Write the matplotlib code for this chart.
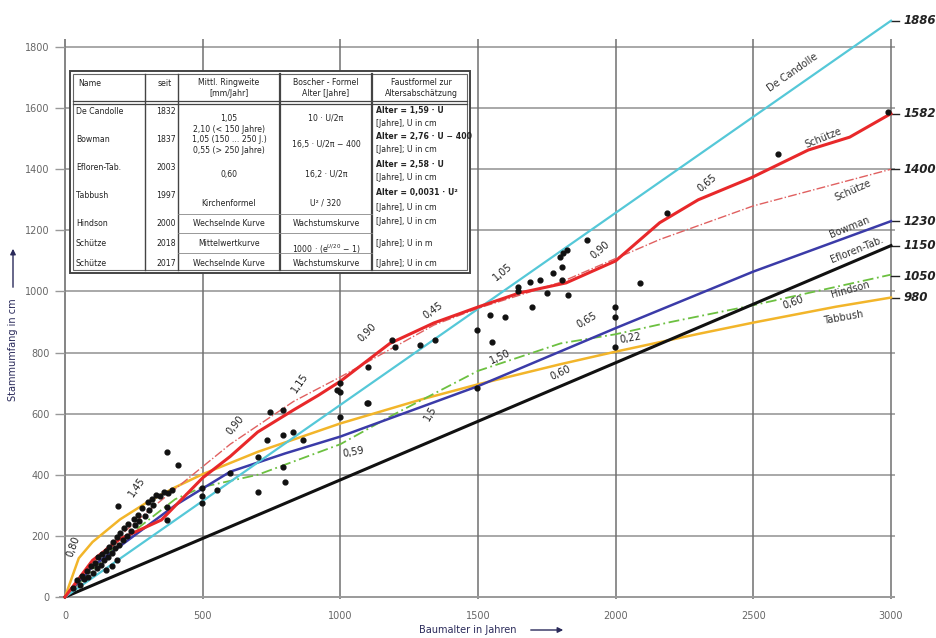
import matplotlib.pyplot as plt
from matplotlib.patches import Rectangle

# --- data ---
decandolle_t = [0, 3000]
decandolle_u = [0, 1886]

schuetze17_t = [0, 100, 200, 350, 500, 600, 700, 830, 920, 1000, 1180, 1340, 1500, 1650, 1820, 2000, 2160, 2300, 2490, 2700, 2850, 3000]
schuetze17_u = [0, 120, 190, 252, 390, 460, 540, 612, 660, 706, 830, 897, 949, 995, 1028, 1100, 1225, 1300, 1371, 1463, 1505, 1582]

schuetze18_t = [0, 150, 300, 600, 830, 1000, 1340, 1500, 1800, 2160, 2500, 3000]
schuetze18_u = [0, 160, 280, 500, 640, 720, 890, 945, 1030, 1170, 1280, 1400]

bowman_t = [0, 100, 250, 400, 500, 600, 800, 1000, 1500, 2000, 2500, 3000]
bowman_u = [0, 100, 200, 300, 355, 410, 470, 525, 690, 880, 1065, 1230]

efloren_t = [0, 3000]
efloren_u = [0, 1150]

hindson_t = [0, 200, 400, 500, 700, 1000, 1200, 1500, 1800, 2000, 2200, 2500, 3000]
hindson_u = [0, 180, 320, 360, 400, 500, 600, 740, 830, 860, 900, 955, 1055]

tabbush_t = [0, 50, 100, 200, 300, 400, 500, 700, 1000, 1300, 1500, 1800, 2000, 2300, 2500, 2800, 3000]
tabbush_u = [0, 127, 180, 254, 311, 359, 402, 475, 568, 648, 696, 762, 803, 861, 898, 950, 980]

# measured trees (age, circumference)
trees_t = [30, 45, 55, 60, 70, 80, 85, 95, 100, 110, 115, 120, 130, 135, 140, 150, 155, 160, 170, 175,
           180, 190, 195, 200, 210, 215, 225, 230, 240, 250, 255, 265, 270, 280, 290, 300, 305, 315, 320, 330,
           345, 360, 375, 390, 150, 170, 190, 192, 370, 410, 370, 370, 498, 498, 498, 552, 600, 701, 799, 792,
           745, 792, 733, 792, 829, 865, 701, 999, 999, 999, 1097, 988, 1101, 1101, 1188, 1199, 1290, 1344, 1496, 1496,
           1544, 1551, 1598, 1645, 1645, 1689, 1696, 1725, 1751, 1772, 1798, 1810, 1823, 1805, 1805, 1827, 1896, 1998, 1998, 1998,
           2088, 2186, 2590, 2990]
trees_u = [30, 55, 40, 70, 60, 85, 65, 100, 80, 110, 95, 130, 105, 140, 120, 150, 130, 165, 145, 180,
           160, 195, 170, 210, 185, 225, 200, 240, 215, 255, 235, 270, 250, 290, 265, 310, 285, 320, 300, 335,
           330, 345, 340, 350, 90, 100, 120, 298, 475, 432, 252, 295, 307, 330, 357, 350, 405, 343, 376, 425,
           605, 612, 514, 530, 540, 514, 458, 700, 671, 589, 635, 677, 753, 635, 841, 818, 825, 841, 874, 684,
           923, 834, 916, 1015, 1000, 1031, 949, 1037, 995, 1060, 1113, 1125, 1136, 1080, 1037, 988, 1168, 949, 916, 818,
           1028, 1257, 1450, 1587]

end_labels = ["1886", "1582", "1400", "1230", "1150", "1050", "980"]
end_values = [1886, 1582, 1400, 1230, 1150, 1050, 980]

curve_names = ["De Candolle", "Schütze", "Schütze", "Bowman", "Efloren-Tab.", "Hindson", "Tabbush"]
name_pos = [(2644, 1715, 35), (2753, 1502, 22), (2862, 1332, 24), (2851, 1211, 22),
            (2877, 1136, 22), (2851, 1005, 16), (2826, 913, 10)]

ring_labels = ["0,80", "1,45", "0,90", "1,15", "0,90", "0,45", "1,05", "0,90", "0,65", "0,65",
               "0,22", "0,60", "1,50", "1,5", "0,59", "0,60"]
ring_pos = [(29, 164, 70), (262, 360, 55), (617, 563, 50), (854, 700, 55), (1097, 864, 45),
            (1337, 939, 35), (1591, 1064, 40), (1943, 1136, 40), (2332, 1355, 40), (1896, 907, 30),
            (2052, 848, 10), (1798, 733, 25), (1580, 785, 25), (1326, 602, 60), (1046, 475, 10),
            (2644, 962, 20)]

x_ticks = [0, 500, 1000, 1500, 2000, 2500, 3000]
y_ticks = [0, 200, 400, 600, 800, 1000, 1200, 1400, 1600, 1800]

table_header = ["Name", "seit", "Mittl. Ringweite\n[mm/Jahr]", "Boscher - Formel\nAlter [Jahre]",
                "Faustformel zur\nAltersabschätzung"]
table_names = ["De Candolle", "Bowman", "Efloren-Tab.", "Tabbush", "Hindson", "Schütze", "Schütze"]
table_years = ["1832", "1837", "2003", "1997", "2000", "2018", "2017"]
table_rings = ["1,05", "2,10 (< 150 Jahre)\n1,05 (150 ... 250 J.)\n0,55 (> 250 Jahre)", "0,60",
               "Kirchenformel", "Wechselnde Kurve", "Mittelwertkurve", "Wechselnde Kurve"]
table_formula = ["10 · U/2π", "16,5 · U/2π − 400", "16,2 · U/2π", "U² / 320",
                 "Wachstumskurve", r"1000 · (e$^{U/20}$ − 1)", "Wachstumskurve"]
table_rule = ["Alter = 1,59 · U", "[Jahre], U in cm", "Alter = 2,76 · U − 400", "[Jahre]; U in cm",
              "Alter = 2,58 · U", "[Jahre], U in cm", "Alter = 0,0031 · U²", "[Jahre], U in cm",
              "[Jahre], U in cm", "[Jahre]; U in m", "[Jahre]; U in cm"]

# --- figure ---
fig = plt.figure(figsize=(9.36, 6.38), dpi=100)
ax = fig.add_axes([65 / 936, 41 / 638, 826 / 936, 550 / 638])
ax.set_xlim(0, 3000)
ax.set_ylim(0, 1800)
for s in ax.spines.values():
    s.set_visible(False)

ax.hlines(y_ticks[1:], 0, 3015, color="#9a9a9a", lw=1.2, clip_on=False, zorder=1)
ax.vlines(x_ticks[1:], -8, 1825, color="#707070", lw=1.1, clip_on=False, zorder=1)
ax.vlines(0, -8, 1825, color="#707070", lw=1.2, clip_on=False, zorder=1)
ax.hlines(0, -20, 3015, color="#9a9a9a", lw=1.4, clip_on=False, zorder=1)

ax.set_xticks(x_ticks)
ax.set_yticks(y_ticks)
ax.tick_params(axis="x", length=0, pad=10, labelsize=7, labelcolor="#666666")
ax.tick_params(axis="y", length=7, width=1, color="#999999", pad=4, labelsize=7, labelcolor="#666666")

ax.plot(tabbush_t, tabbush_u, color="#f2b52a", lw=1.8, zorder=3, clip_on=False)
ax.plot(hindson_t, hindson_u, color="#6cc040", lw=1.3, ls=(0, (6, 2, 1, 2)), zorder=3, clip_on=False)
ax.plot(efloren_t, efloren_u, color="#111111", lw=2.2, zorder=3, clip_on=False)
ax.plot(bowman_t, bowman_u, color="#3b3ba8", lw=1.8, zorder=3, clip_on=False)
ax.plot(decandolle_t, decandolle_u, color="#55c8d8", lw=1.6, zorder=3, clip_on=False)
ax.plot(schuetze18_t, schuetze18_u, color="#e06060", lw=1.0, ls="-.", zorder=3, clip_on=False)
ax.plot(schuetze17_t, schuetze17_u, color="#e8282a", lw=2.2, zorder=4, clip_on=False)
ax.scatter(trees_t, trees_u, s=12, color="#111111", zorder=5, clip_on=False)

for lab, v in zip(end_labels, end_values):
    ax.plot([3000, 3030], [v, v], color="#222222", lw=1, clip_on=False)
    ax.text(3045, v, lab, fontsize=8.5, fontweight="bold", color="#222222", va="center", ha="left",
            style="italic")

for name, (t, u, r) in zip(curve_names, name_pos):
    ax.text(t, u, name, fontsize=7, color="#333333", rotation=r, ha="center", va="center", zorder=6)

for lab, (t, u, r) in zip(ring_labels, ring_pos):
    ax.text(t, u, lab, fontsize=7, color="#222222", rotation=r, ha="center", va="center", zorder=6)

# --- axis titles with arrows (figure pixels) ---
ov = fig.add_axes([0, 0, 1, 1], zorder=10)
ov.set_xlim(0, 936)
ov.set_ylim(638, 0)
ov.axis("off")
ov.patch.set_alpha(0)

ov.text(468, 630, "Baumalter in Jahren", fontsize=7, color="#2a2a5a", ha="center", va="center")
ov.annotate("", xy=(566, 630), xytext=(528, 630),
            arrowprops=dict(arrowstyle="-|>", color="#2a2a5a", lw=1, mutation_scale=8))
ov.text(13, 350, "Stammumfang in cm", fontsize=7, color="#2a2a5a", ha="center", va="center", rotation=90)
ov.annotate("", xy=(13, 246), xytext=(13, 290),
            arrowprops=dict(arrowstyle="-|>", color="#2a2a5a", lw=1, mutation_scale=8))

# --- table ---
x0, x1, y0, y1 = 70, 470, 71, 273
ov.add_patch(Rectangle((x0, y0), x1 - x0, y1 - y0, facecolor="white", edgecolor="#444444", lw=1.4))
ov.add_patch(Rectangle((x0 + 3, y0 + 3), x1 - x0 - 6, y1 - y0 - 6, facecolor="none", edgecolor="#666666", lw=0.8))
ov.plot([x0 + 3, x1 - 3], [101, 101], color="#444444", lw=0.9)
ov.plot([x0 + 3, x1 - 3], [104, 104], color="#444444", lw=0.9)
for cx, lw in [(145, 1.0), (178, 1.0), (280, 1.6), (372, 1.6)]:
    ov.plot([cx, cx], [y0 + 3, y1 - 3], color="#444444", lw=lw)
for ry in [214, 233, 253]:
    ov.plot([178, 372], [ry, ry], color="#888888", lw=0.6)

tfs = 5.6
ov.text(78, 83, table_header[0], fontsize=tfs, va="center", ha="left", color="#222222")
ov.text(158, 83, table_header[1], fontsize=tfs, va="center", ha="left", color="#222222")
ov.text(229, 88, table_header[2], fontsize=tfs, va="center", ha="center", color="#222222", linespacing=1.4)
ov.text(326, 88, table_header[3], fontsize=tfs, va="center", ha="center", color="#222222", linespacing=1.4)
ov.text(421, 88, table_header[4], fontsize=tfs, va="center", ha="center", color="#222222", linespacing=1.4)

row_y = [112, 140, 168, 195, 223, 243, 263]
for name, year, y in zip(table_names, table_years, row_y):
    ov.text(76, y, name, fontsize=tfs, va="center", ha="left", color="#222222")
    ov.text(156, y, year, fontsize=tfs, va="center", ha="left", color="#222222")

ring_y = [118, 140, 175, 203, 223, 243, 263]
for txt, y in zip(table_rings, ring_y):
    ov.text(229, y, txt, fontsize=tfs, va="center", ha="center", color="#222222", linespacing=1.15)

form_y = [118, 145, 175, 203, 223, 249, 263]
for txt, y in zip(table_formula, form_y):
    ov.text(326, y, txt, fontsize=tfs, va="center", ha="center", color="#222222")

rule_y = [110, 123, 137, 150, 165, 178, 193, 207, 222, 243, 263]
for txt, y in zip(table_rule, rule_y):
    bold = txt.startswith("Alter")
    ov.text(376, y, txt, fontsize=tfs, va="center", ha="left", color="#222222",
            fontweight="bold" if bold else "normal")

fig.savefig("out.png", dpi=100)
